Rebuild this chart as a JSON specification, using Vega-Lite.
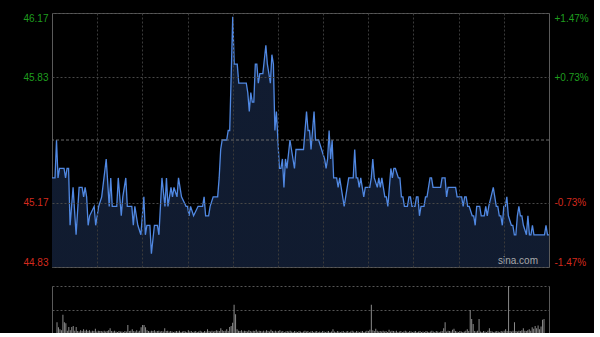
{
"$schema": "https://vega.github.io/schema/vega-lite/v6.json",
"background": "#000000",
"padding": {"left": 22, "top": 12, "right": 5, "bottom": 0},
"spacing": 18,
"config": {"view": {"stroke": "#5a5a5a", "strokeWidth": 1}, "font": "Liberation Sans", "axis": {"labelFont": "Liberation Sans"}},
"datasets": {
"price": [
{"t":0,"p":45.30},{"t":2,"p":45.30},{"t":3,"p":45.50},{"t":4,"p":45.30},{"t":5,"p":45.35},{"t":8,"p":45.35},{"t":9,"p":45.30},{"t":10,"p":45.35},{"t":11,"p":45.35},{"t":12,"p":45.05},{"t":14,"p":45.25},{"t":16,"p":45.00},{"t":18,"p":45.25},{"t":20,"p":45.25},{"t":21,"p":45.20},{"t":22,"p":45.25},{"t":23,"p":45.20},{"t":24,"p":45.05},{"t":25,"p":45.10},{"t":28,"p":45.15},{"t":29,"p":45.05},{"t":31,"p":45.15},{"t":33,"p":45.20},{"t":36,"p":45.40},{"t":38,"p":45.15},{"t":39,"p":45.30},{"t":40,"p":45.15},{"t":43,"p":45.15},{"t":44,"p":45.30},{"t":46,"p":45.10},{"t":47,"p":45.20},{"t":49,"p":45.30},{"t":50,"p":45.15},{"t":53,"p":45.15},{"t":54,"p":45.05},{"t":55,"p":45.15},{"t":57,"p":45.05},{"t":59,"p":45.00},{"t":60,"p":45.10},{"t":61,"p":45.20},{"t":62,"p":45.00},{"t":63,"p":45.05},{"t":65,"p":45.05},{"t":66,"p":44.90},{"t":68,"p":45.05},{"t":70,"p":45.05},{"t":71,"p":45.00},{"t":73,"p":45.30},{"t":75,"p":45.15},{"t":76,"p":45.30},{"t":77,"p":45.15},{"t":79,"p":45.25},{"t":80,"p":45.20},{"t":81,"p":45.25},{"t":83,"p":45.20},{"t":84,"p":45.30},{"t":86,"p":45.20},{"t":89,"p":45.15},{"t":90,"p":45.15},{"t":91,"p":45.10},{"t":92,"p":45.15},{"t":94,"p":45.10},{"t":97,"p":45.15},{"t":100,"p":45.15},{"t":101,"p":45.20},{"t":102,"p":45.10},{"t":104,"p":45.10},{"t":105,"p":45.15},{"t":107,"p":45.20},{"t":110,"p":45.20},{"t":111,"p":45.30},{"t":112,"p":45.45},{"t":113,"p":45.50},{"t":116,"p":45.50},{"t":117,"p":45.55},{"t":118,"p":45.55},{"t":119,"p":45.85},{"t":120,"p":46.15},{"t":121,"p":45.90},{"t":123,"p":45.90},{"t":124,"p":45.80},{"t":129,"p":45.80},{"t":130,"p":45.75},{"t":131,"p":45.65},{"t":132,"p":45.75},{"t":133,"p":45.70},{"t":134,"p":45.70},{"t":135,"p":45.90},{"t":136,"p":45.90},{"t":137,"p":45.80},{"t":138,"p":45.85},{"t":140,"p":45.85},{"t":142,"p":46.00},{"t":143,"p":45.90},{"t":144,"p":45.85},{"t":145,"p":45.80},{"t":146,"p":45.95},{"t":147,"p":45.90},{"t":148,"p":45.55},{"t":149,"p":45.65},{"t":150,"p":45.50},{"t":151,"p":45.35},{"t":152,"p":45.35},{"t":153,"p":45.40},{"t":154,"p":45.25},{"t":155,"p":45.40},{"t":156,"p":45.35},{"t":158,"p":45.50},{"t":159,"p":45.45},{"t":161,"p":45.35},{"t":162,"p":45.45},{"t":164,"p":45.45},{"t":165,"p":45.45},{"t":167,"p":45.45},{"t":169,"p":45.65},{"t":170,"p":45.55},{"t":171,"p":45.55},{"t":172,"p":45.45},{"t":174,"p":45.65},{"t":175,"p":45.50},{"t":177,"p":45.50},{"t":179,"p":45.45},{"t":181,"p":45.40},{"t":182,"p":45.35},{"t":183,"p":45.40},{"t":184,"p":45.55},{"t":185,"p":45.40},{"t":186,"p":45.50},{"t":187,"p":45.30},{"t":189,"p":45.30},{"t":190,"p":45.25},{"t":191,"p":45.30},{"t":192,"p":45.25},{"t":193,"p":45.20},{"t":194,"p":45.15},{"t":195,"p":45.20},{"t":197,"p":45.30},{"t":200,"p":45.30},{"t":201,"p":45.45},{"t":202,"p":45.30},{"t":203,"p":45.30},{"t":204,"p":45.25},{"t":205,"p":45.30},{"t":206,"p":45.25},{"t":207,"p":45.20},{"t":208,"p":45.25},{"t":211,"p":45.25},{"t":212,"p":45.30},{"t":213,"p":45.40},{"t":214,"p":45.30},{"t":216,"p":45.25},{"t":217,"p":45.30},{"t":218,"p":45.25},{"t":219,"p":45.30},{"t":220,"p":45.25},{"t":221,"p":45.20},{"t":222,"p":45.20},{"t":223,"p":45.15},{"t":225,"p":45.35},{"t":226,"p":45.30},{"t":227,"p":45.35},{"t":228,"p":45.35},{"t":230,"p":45.30},{"t":231,"p":45.30},{"t":232,"p":45.20},{"t":233,"p":45.20},{"t":234,"p":45.15},{"t":236,"p":45.15},{"t":237,"p":45.20},{"t":238,"p":45.20},{"t":239,"p":45.15},{"t":241,"p":45.15},{"t":242,"p":45.20},{"t":243,"p":45.20},{"t":244,"p":45.10},{"t":245,"p":45.15},{"t":247,"p":45.15},{"t":248,"p":45.20},{"t":249,"p":45.20},{"t":251,"p":45.30},{"t":252,"p":45.30},{"t":253,"p":45.25},{"t":258,"p":45.25},{"t":259,"p":45.30},{"t":261,"p":45.30},{"t":262,"p":45.20},{"t":263,"p":45.25},{"t":268,"p":45.25},{"t":269,"p":45.20},{"t":272,"p":45.20},{"t":273,"p":45.15},{"t":274,"p":45.20},{"t":275,"p":45.20},{"t":276,"p":45.15},{"t":277,"p":45.15},{"t":279,"p":45.10},{"t":280,"p":45.10},{"t":281,"p":45.05},{"t":282,"p":45.15},{"t":284,"p":45.15},{"t":285,"p":45.10},{"t":287,"p":45.10},{"t":288,"p":45.15},{"t":289,"p":45.10},{"t":290,"p":45.15},{"t":293,"p":45.25},{"t":294,"p":45.20},{"t":295,"p":45.15},{"t":296,"p":45.15},{"t":297,"p":45.10},{"t":298,"p":45.10},{"t":299,"p":45.05},{"t":300,"p":45.15},{"t":301,"p":45.15},{"t":302,"p":45.20},{"t":303,"p":45.10},{"t":305,"p":45.05},{"t":306,"p":45.05},{"t":307,"p":45.00},{"t":308,"p":45.00},{"t":309,"p":45.10},{"t":310,"p":45.15},{"t":311,"p":45.10},{"t":312,"p":45.10},{"t":313,"p":45.05},{"t":315,"p":45.00},{"t":316,"p":45.10},{"t":317,"p":45.00},{"t":318,"p":45.00},{"t":319,"p":45.05},{"t":320,"p":45.00},{"t":327,"p":45.00},{"t":328,"p":45.05},{"t":329,"p":45.00},{"t":330,"p":45.00}
],
"vol": [
{"t":0,"v":23},{"t":1,"v":12},{"t":2,"v":8},{"t":3,"v":6},{"t":4,"v":39},{"t":5,"v":23},{"t":6,"v":21},{"t":7,"v":5},{"t":8,"v":13},{"t":9,"v":6},{"t":10,"v":13},{"t":11,"v":15},{"t":12,"v":5},{"t":13,"v":13},{"t":14,"v":4},{"t":15,"v":3},{"t":16,"v":6},{"t":17,"v":4},{"t":18,"v":8},{"t":19,"v":5},{"t":20,"v":7},{"t":21,"v":4},{"t":22,"v":6},{"t":23,"v":3},{"t":24,"v":5},{"t":25,"v":4},{"t":26,"v":9},{"t":27,"v":3},{"t":28,"v":5},{"t":29,"v":4},{"t":30,"v":4},{"t":31,"v":3},{"t":32,"v":5},{"t":33,"v":3},{"t":34,"v":4},{"t":35,"v":6},{"t":36,"v":10},{"t":37,"v":4},{"t":38,"v":3},{"t":39,"v":5},{"t":40,"v":3},{"t":41,"v":2},{"t":42,"v":4},{"t":43,"v":3},{"t":44,"v":3},{"t":45,"v":2},{"t":46,"v":4},{"t":47,"v":3},{"t":48,"v":17},{"t":49,"v":4},{"t":50,"v":5},{"t":51,"v":8},{"t":52,"v":4},{"t":53,"v":3},{"t":54,"v":6},{"t":55,"v":3},{"t":56,"v":5},{"t":57,"v":12},{"t":58,"v":17},{"t":59,"v":17},{"t":60,"v":12},{"t":61,"v":6},{"t":62,"v":4},{"t":63,"v":3},{"t":64,"v":5},{"t":65,"v":4},{"t":66,"v":6},{"t":67,"v":3},{"t":68,"v":4},{"t":69,"v":5},{"t":70,"v":3},{"t":71,"v":4},{"t":72,"v":3},{"t":73,"v":10},{"t":74,"v":4},{"t":75,"v":5},{"t":76,"v":3},{"t":77,"v":4},{"t":78,"v":3},{"t":79,"v":2},{"t":80,"v":3},{"t":81,"v":4},{"t":82,"v":3},{"t":83,"v":5},{"t":84,"v":2},{"t":85,"v":3},{"t":86,"v":4},{"t":87,"v":3},{"t":88,"v":2},{"t":89,"v":6},{"t":90,"v":3},{"t":91,"v":4},{"t":92,"v":2},{"t":93,"v":3},{"t":94,"v":4},{"t":95,"v":2},{"t":96,"v":3},{"t":97,"v":5},{"t":98,"v":3},{"t":99,"v":2},{"t":100,"v":4},{"t":101,"v":3},{"t":102,"v":8},{"t":103,"v":4},{"t":104,"v":3},{"t":105,"v":5},{"t":106,"v":3},{"t":107,"v":4},{"t":108,"v":6},{"t":109,"v":5},{"t":110,"v":4},{"t":111,"v":10},{"t":112,"v":6},{"t":113,"v":4},{"t":114,"v":5},{"t":115,"v":8},{"t":116,"v":4},{"t":117,"v":13},{"t":118,"v":15},{"t":119,"v":22},{"t":120,"v":60},{"t":121,"v":40},{"t":122,"v":8},{"t":123,"v":5},{"t":124,"v":4},{"t":125,"v":6},{"t":126,"v":3},{"t":127,"v":5},{"t":128,"v":4},{"t":129,"v":3},{"t":130,"v":6},{"t":131,"v":4},{"t":132,"v":3},{"t":133,"v":5},{"t":134,"v":4},{"t":135,"v":7},{"t":136,"v":3},{"t":137,"v":5},{"t":138,"v":4},{"t":139,"v":3},{"t":140,"v":5},{"t":141,"v":3},{"t":142,"v":6},{"t":143,"v":4},{"t":144,"v":3},{"t":145,"v":7},{"t":146,"v":4},{"t":147,"v":3},{"t":148,"v":5},{"t":149,"v":3},{"t":150,"v":4},{"t":151,"v":6},{"t":152,"v":3},{"t":153,"v":4},{"t":154,"v":2},{"t":155,"v":3},{"t":156,"v":4},{"t":157,"v":3},{"t":158,"v":5},{"t":159,"v":3},{"t":160,"v":2},{"t":161,"v":4},{"t":162,"v":3},{"t":163,"v":2},{"t":164,"v":4},{"t":165,"v":3},{"t":166,"v":2},{"t":167,"v":3},{"t":168,"v":5},{"t":169,"v":3},{"t":170,"v":4},{"t":171,"v":2},{"t":172,"v":3},{"t":173,"v":4},{"t":174,"v":2},{"t":175,"v":3},{"t":176,"v":4},{"t":177,"v":2},{"t":178,"v":3},{"t":179,"v":2},{"t":180,"v":4},{"t":181,"v":3},{"t":182,"v":2},{"t":183,"v":3},{"t":184,"v":4},{"t":185,"v":2},{"t":186,"v":3},{"t":187,"v":8},{"t":188,"v":3},{"t":189,"v":2},{"t":190,"v":4},{"t":191,"v":3},{"t":192,"v":2},{"t":193,"v":3},{"t":194,"v":4},{"t":195,"v":2},{"t":196,"v":3},{"t":197,"v":4},{"t":198,"v":2},{"t":199,"v":3},{"t":200,"v":5},{"t":201,"v":3},{"t":202,"v":2},{"t":203,"v":4},{"t":204,"v":3},{"t":205,"v":2},{"t":206,"v":3},{"t":207,"v":4},{"t":208,"v":2},{"t":209,"v":3},{"t":210,"v":5},{"t":211,"v":4},{"t":212,"v":7},{"t":213,"v":60},{"t":214,"v":6},{"t":215,"v":4},{"t":216,"v":9},{"t":217,"v":5},{"t":218,"v":3},{"t":219,"v":4},{"t":220,"v":3},{"t":221,"v":5},{"t":222,"v":3},{"t":223,"v":4},{"t":224,"v":2},{"t":225,"v":7},{"t":226,"v":3},{"t":227,"v":5},{"t":228,"v":4},{"t":229,"v":3},{"t":230,"v":5},{"t":231,"v":2},{"t":232,"v":3},{"t":233,"v":4},{"t":234,"v":2},{"t":235,"v":3},{"t":236,"v":5},{"t":237,"v":3},{"t":238,"v":2},{"t":239,"v":4},{"t":240,"v":3},{"t":241,"v":2},{"t":242,"v":3},{"t":243,"v":4},{"t":244,"v":2},{"t":245,"v":3},{"t":246,"v":4},{"t":247,"v":2},{"t":248,"v":3},{"t":249,"v":2},{"t":250,"v":4},{"t":251,"v":3},{"t":252,"v":2},{"t":253,"v":3},{"t":254,"v":5},{"t":255,"v":3},{"t":256,"v":2},{"t":257,"v":4},{"t":258,"v":3},{"t":259,"v":2},{"t":260,"v":3},{"t":261,"v":4},{"t":262,"v":10},{"t":263,"v":23},{"t":264,"v":3},{"t":265,"v":5},{"t":266,"v":4},{"t":267,"v":3},{"t":268,"v":7},{"t":269,"v":9},{"t":270,"v":4},{"t":271,"v":3},{"t":272,"v":2},{"t":273,"v":4},{"t":274,"v":3},{"t":275,"v":2},{"t":276,"v":3},{"t":277,"v":5},{"t":278,"v":8},{"t":279,"v":4},{"t":280,"v":49},{"t":281,"v":30},{"t":282,"v":19},{"t":283,"v":4},{"t":284,"v":3},{"t":285,"v":5},{"t":286,"v":30},{"t":287,"v":3},{"t":288,"v":2},{"t":289,"v":4},{"t":290,"v":3},{"t":291,"v":2},{"t":292,"v":5},{"t":293,"v":10},{"t":294,"v":4},{"t":295,"v":3},{"t":296,"v":2},{"t":297,"v":3},{"t":298,"v":4},{"t":299,"v":3},{"t":300,"v":2},{"t":301,"v":4},{"t":302,"v":3},{"t":303,"v":5},{"t":304,"v":8},{"t":305,"v":4},{"t":306,"v":100},{"t":307,"v":4},{"t":308,"v":3},{"t":309,"v":5},{"t":310,"v":23},{"t":311,"v":4},{"t":312,"v":3},{"t":313,"v":5},{"t":314,"v":4},{"t":315,"v":6},{"t":316,"v":10},{"t":317,"v":5},{"t":318,"v":4},{"t":319,"v":6},{"t":320,"v":8},{"t":321,"v":5},{"t":322,"v":12},{"t":323,"v":9},{"t":324,"v":15},{"t":325,"v":10},{"t":326,"v":16},{"t":327,"v":8},{"t":328,"v":14},{"t":329,"v":28},{"t":330,"v":30}
]
},
"vconcat": [
{
"width": 497, "height": 254,
"layer": [
{"data": {"name": "price"},
 "mark": {"type": "area", "clip": true, "color": {"gradient": "linear", "x1": 0, "y1": 0, "x2": 0, "y2": 1, "stops": [{"offset": 0, "color": "#111c31"}, {"offset": 0.45, "color": "#0a0f1a"}, {"offset": 1, "color": "#020203"}]}},
 "encoding": {
  "x": {"field": "t", "type": "quantitative", "scale": {"domain": [0, 330], "nice": false, "zero": false},
        "axis": {"values": [30,60,90,120,150,180,210,240,270,300], "grid": true, "gridColor": "#3a3a3a", "gridDash": [2,2], "labels": false, "ticks": false, "domain": false, "title": null, "zindex": 1}},
  "y": {"field": "p", "type": "quantitative", "scale": {"domain": [44.83, 46.17], "nice": false, "zero": false},
        "axis": {"values": [44.83, 45.17, 45.83, 46.17], "format": ".2f", "grid": true, "gridColor": "#474747", "gridDash": [2,2], "labelFlush": true, "labelFontSize": 10, "labelPadding": 4, "labelColor": {"condition": {"test": "datum.value > 45.5", "value": "#1f9d1f"}, "value": "#d42a1e"}, "ticks": false, "domain": false, "title": null, "zindex": 1}}
 }},
{"data": {"name": "price"},
 "mark": {"type": "line", "color": "#5088e2", "strokeWidth": 1.3, "clip": true},
 "encoding": {"x": {"field": "t", "type": "quantitative"}, "y": {"field": "p", "type": "quantitative", "axis": null}}},
{"data": {"values": [{}]},
 "mark": {"type": "rule", "color": "#6a6a6a", "strokeDash": [3,2]},
 "encoding": {"y": {"datum": 45.5, "type": "quantitative",
   "axis": {"orient": "right", "values": [44.83, 45.17, 45.83, 46.17], "labelExpr": "datum.value > 46 ? '+1.47%' : datum.value > 45.5 ? '+0.73%' : datum.value > 45 ? '-0.73%' : '-1.47%'", "labelFlush": true, "labelFontSize": 10, "labelPadding": 5, "labelColor": {"condition": {"test": "datum.value > 45.5", "value": "#1f9d1f"}, "value": "#d42a1e"}, "ticks": false, "domain": false, "grid": false, "title": null}}}},
{"data": {"values": [{"t": 322.7, "p": 44.848, "label": "sina.com"}]},
 "mark": {"type": "text", "align": "right", "baseline": "alphabetic", "fontSize": 10, "color": "#a8a8a8"},
 "encoding": {"x": {"field": "t", "type": "quantitative"}, "y": {"field": "p", "type": "quantitative", "axis": null}, "text": {"field": "label"}}}
],
"resolve": {"axis": {"y": "independent"}}
},
{
"width": 497, "height": 47,
"view": {"stroke": null},
"layer": [
{"data": {"name": "vol"},
 "mark": {"type": "bar", "color": "#8a8a8a", "size": 1},
 "encoding": {
  "x": {"field": "t", "type": "quantitative", "scale": {"domain": [0, 330], "nice": false, "zero": false}, "axis": null},
  "y": {"field": "v", "type": "quantitative", "scale": {"domain": [0, 100], "nice": false},
        "axis": {"values": [50, 100], "grid": true, "gridColor": "#555555", "gridDash": [2,2], "labels": false, "ticks": false, "domain": true, "domainColor": "#5a5a5a", "title": null}}
 }},
{"data": {"values": [{}]},
 "mark": {"type": "rule", "opacity": 0},
 "encoding": {"y": {"datum": 0, "type": "quantitative", "axis": {"orient": "right", "labels": false, "ticks": false, "grid": false, "domain": true, "domainColor": "#5a5a5a", "title": null}}}}
],
"resolve": {"axis": {"y": "independent"}}
}
]
}
